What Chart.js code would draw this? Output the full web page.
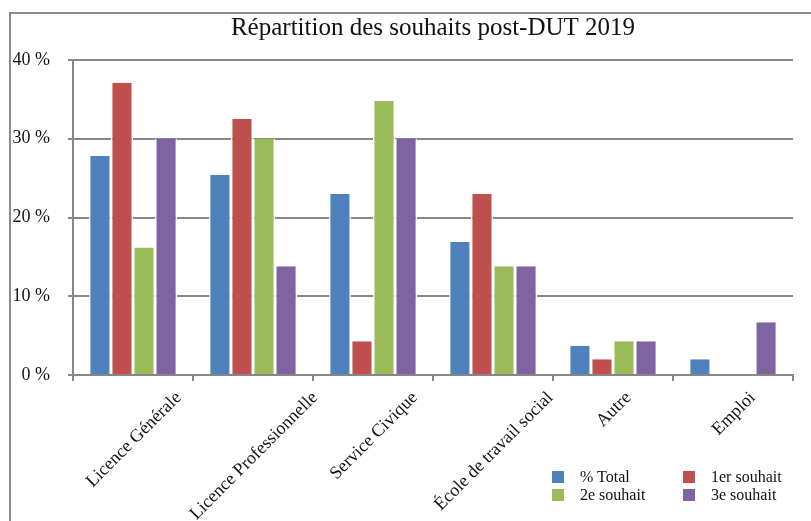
<!DOCTYPE html>
<html>
<head>
<meta charset="utf-8">
<script src="https://cdn.jsdelivr.net/npm/chart.js@4/dist/chart.umd.min.js"></script>
<style>
  html, body { margin: 0; padding: 0; background: #fff; }
  #wrap { position: relative; width: 811px; height: 521px; overflow: hidden; }
  #frame { position: absolute; left: 9px; top: 12px; width: 900px; height: 600px;
           border-top: 2px solid #8c8c8c; border-left: 2px solid #8c8c8c; box-sizing: border-box; }
  canvas { position: absolute; left: 0; top: 0; }
  #legend { position: absolute; left: 552px; top: 469px; display: grid;
            grid-template-columns: 131px 120px; row-gap: 2px;
            font: 16px "Liberation Serif", "Times New Roman", serif; color: #111; }
  #legend .item { display: flex; align-items: center; height: 16px; }
  #legend .box { width: 12px; height: 12px; margin-right: 16px; box-shadow: 0 0 0 1px #fff; }
</style>
</head>
<body>
<div id="wrap">
  <div id="frame"></div>
  <canvas id="c" width="811" height="521"></canvas>
  <div id="legend"></div>
</div>
<script>
const categories = ['Licence Générale', 'Licence Professionnelle', 'Service Civique',
                    'École de travail social', 'Autre', 'Emploi'];
const seriesNames = ['% Total', '1er souhait', '2e souhait', '3e souhait'];
const totalValues  = [27.8, 25.4, 23.0, 16.9, 3.7, 2.0];
const firstValues  = [37.1, 32.5, 4.3, 23.0, 2.0, 0];
const secondValues = [16.2, 30.0, 34.8, 13.8, 4.3, 0];
const thirdValues  = [30.0, 13.8, 30.0, 13.8, 4.3, 6.7];
const yTicks = [0, 10, 20, 30, 40];

const colors = ['#4F81BD', '#C0504D', '#9BBB59', '#8064A2'];
const serif = '"Liberation Serif", "Times New Roman", serif';
const gridColor = '#878787';

const xLabelPlugin = {
  id: 'xLabels',
  afterDraw(chart) {
    const sc = chart.scales.x;
    const ctx = chart.ctx;
    ctx.save();
    ctx.font = '18px ' + serif;
    ctx.fillStyle = '#111';
    ctx.textAlign = 'center';
    ctx.textBaseline = 'middle';
    categories.forEach((lab, i) => {
      const x = sc.getPixelForTick(i);
      const w = ctx.measureText(lab).width;
      const y = sc.top + 20 + (w / 2) * Math.SQRT1_2;
      ctx.save();
      ctx.translate(x + 1, y);
      ctx.rotate(-Math.PI / 4);
      ctx.fillText(lab, 0, 0);
      ctx.restore();
    });
    ctx.restore();
  }
};

const data = {
  labels: categories,
  datasets: [totalValues, firstValues, secondValues, thirdValues].map((vals, i) => ({
    label: seriesNames[i],
    data: vals,
    backgroundColor: colors[i],
    borderColor: '#ffffff',
    borderWidth: { top: 0, bottom: 0, left: 1.5, right: 1.5 },
    borderSkipped: false,
    categoryPercentage: 0.735,
    barPercentage: 1.0
  }))
};

new Chart(document.getElementById('c'), {
  type: 'bar',
  data,
  plugins: [xLabelPlugin],
  options: {
    responsive: false,
    animation: false,
    devicePixelRatio: 1,
    layout: { padding: { top: 0, right: 18, bottom: 0, left: 0 } },
    plugins: {
      legend: { display: false },
      tooltip: { enabled: false },
      title: {
        display: true,
        text: 'Répartition des souhaits post-DUT 2019',
        fullSize: false,
        color: '#111',
        font: { family: serif, size: 25, weight: 'normal', lineHeight: 1.2 },
        padding: { top: 13, bottom: 17 }
      }
    },
    scales: {
      x: {
        grid: { display: true, drawOnChartArea: false, drawTicks: true, tickLength: 6,
                color: gridColor, lineWidth: 2, offset: true },
        border: { display: true, color: gridColor, width: 2 },
        ticks: { display: false },
        afterFit(scale) { scale.height = 146; }
      },
      y: {
        min: 0, max: 40,
        afterBuildTicks(scale) { scale.ticks = yTicks.map(v => ({ value: v })); },
        grid: { color: gridColor, lineWidth: 2, drawTicks: true, tickLength: 5 },
        border: { display: true, color: gridColor, width: 2 },
        ticks: {
          color: '#111',
          padding: 18,
          font: { family: serif, size: 18 },
          callback: v => v + ' %'
        },
        afterFit(scale) { scale.width = 73; }
      }
    }
  }
});

const legend = document.getElementById('legend');
[0, 1, 2, 3].forEach(i => {
  const d = document.createElement('div');
  d.className = 'item';
  d.innerHTML = '<span class="box" style="background:' + colors[i] + '"></span><span>' + seriesNames[i] + '</span>';
  legend.appendChild(d);
});
</script>
</body>
</html>
